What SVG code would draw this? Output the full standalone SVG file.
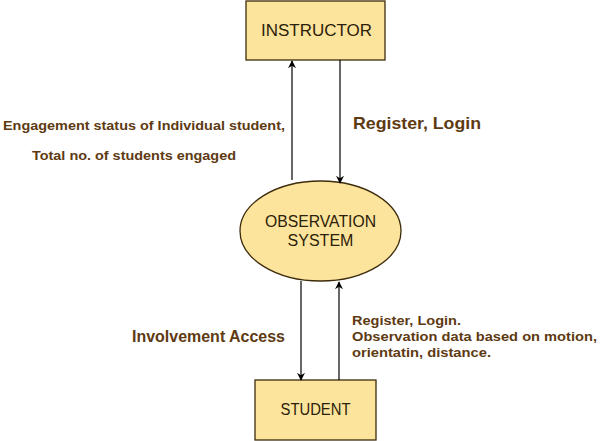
<svg xmlns="http://www.w3.org/2000/svg" width="611" height="441" viewBox="0 0 611 441">
<style>
.node{fill:#fde49d;stroke:#3d2c0c;stroke-width:1.3}
.nt{font-family:"Liberation Sans",Arial,sans-serif;font-size:16px;fill:#2b2008;text-anchor:middle}
.lbl{font-family:"Liberation Sans",Arial,sans-serif;font-weight:bold;fill:#5e3a12}
.edge{stroke:#000;stroke-width:1.2;fill:none}
</style>
<defs>
<marker id="ah" viewBox="0 0 10 10" refX="9" refY="5" markerWidth="8" markerHeight="8" markerUnits="userSpaceOnUse" orient="auto">
<path d="M0,0 L10,5 L0,10 L3,5 Z" fill="#000"/>
</marker>
</defs>
<rect width="611" height="441" fill="#fff"/>
<g id="instructor">
<rect class="node" x="246" y="1" width="139" height="59"/>
<text class="nt" x="316.5" y="36" textLength="111" lengthAdjust="spacingAndGlyphs">INSTRUCTOR</text>
</g>
<g id="observation-system">
<ellipse class="node" cx="320.5" cy="231" rx="80.5" ry="50"/>
<text class="nt" x="320.5" y="227" textLength="111" lengthAdjust="spacingAndGlyphs">OBSERVATION</text>
<text class="nt" x="320.5" y="246">SYSTEM</text>
</g>
<g id="student">
<rect class="node" x="255" y="380" width="121" height="60"/>
<text class="nt" x="315.5" y="415" textLength="70" lengthAdjust="spacingAndGlyphs">STUDENT</text>
</g>
<g id="connectors">
<line class="edge" x1="292" y1="180" x2="292" y2="61" marker-end="url(#ah)"/>
<line class="edge" x1="340" y1="60" x2="340" y2="183" marker-end="url(#ah)"/>
<line class="edge" x1="301" y1="281" x2="301" y2="380" marker-end="url(#ah)"/>
<line class="edge" x1="339" y1="380" x2="339" y2="282" marker-end="url(#ah)"/>
</g>
<g id="labels">
<text class="lbl" x="353" y="129" font-size="17" textLength="128" lengthAdjust="spacingAndGlyphs">Register, Login</text>
<text class="lbl" x="3" y="130" font-size="13.5" textLength="282" lengthAdjust="spacingAndGlyphs">Engagement status of Individual student,</text>
<text class="lbl" x="32" y="160" font-size="13.5" textLength="204" lengthAdjust="spacingAndGlyphs">Total no. of students engaged</text>
<text class="lbl" x="132" y="342" font-size="16" textLength="153" lengthAdjust="spacingAndGlyphs">Involvement Access</text>
<text class="lbl" x="352" y="325" font-size="13.5" textLength="109" lengthAdjust="spacingAndGlyphs">Register, Login.</text>
<text class="lbl" x="352" y="341" font-size="13.5" textLength="245" lengthAdjust="spacingAndGlyphs">Observation data based on motion,</text>
<text class="lbl" x="352" y="357" font-size="13.5" textLength="139" lengthAdjust="spacingAndGlyphs">orientatin, distance.</text>
</g>
</svg>
